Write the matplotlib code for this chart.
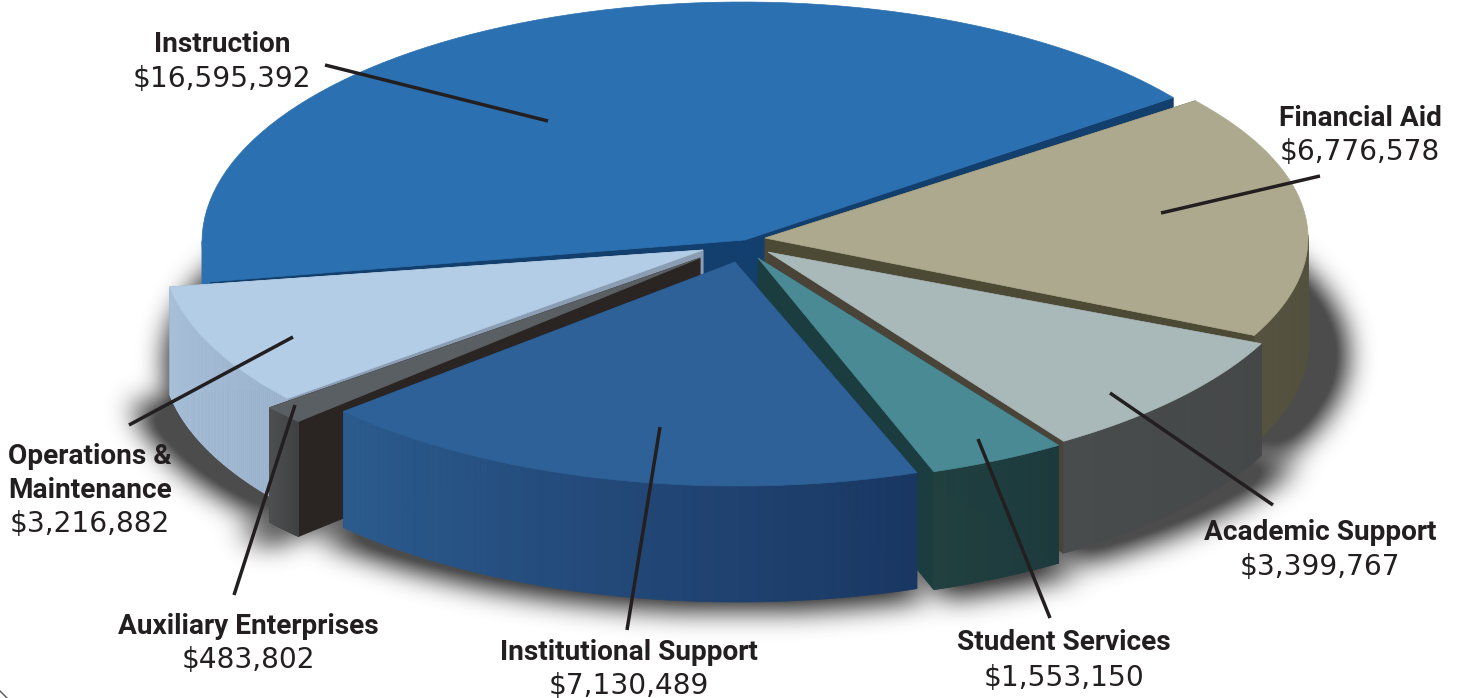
# 3D exploded pie: expenses by function
import numpy as np
import matplotlib
matplotlib.use('Agg')
import matplotlib.pyplot as plt
from matplotlib import font_manager as fm
from matplotlib.collections import PolyCollection
from matplotlib.colors import to_rgb
from matplotlib.patches import Polygon
from matplotlib.path import Path

categories = ['Instruction', 'Operations &\nMaintenance', 'Auxiliary Enterprises',
              'Institutional Support', 'Student Services', 'Academic Support', 'Financial Aid']
values = [16595392, 3216882, 483802, 7130489, 1553150, 3399767, 6776578]
value_labels = ['$16,595,392', '$3,216,882', '$483,802', '$7,130,489',
                '$1,553,150', '$3,399,767', '$6,776,578']

# layout of the picture, in pixels
W, H = 1459, 698
START_ANGLE = 37.0
centers = [(742, 242), (722, 247), (704, 256), (738, 246), (750, 245), (755, 241), (748, 238)]
radii_x = [540, 560, 560, 545, 560, 560, 560]
radii_y = [240, 240, 240, 240, 240, 240, 228]
apexes = [(745, 240), (703, 250), (700, 258), (735, 262), (758, 258), (768, 252), (765, 238)]
depths = [112, 108, 115, 116, 118, 112, 108]
top_colors = ['#2b70b0', '#b3cde6', '#5a5f63', '#2d6197', '#4a8a95', '#a9b8b9', '#aca98e']
wall_left = ['#2b70b0', '#a9c0da', '#4d4f51', '#2b5b8e', '#21403f', '#484c4c', '#55533f']
wall_right = ['#2b70b0', '#9db4cf', '#3f4143', '#1a3763', '#1d3a3d', '#454848', '#4f4e3c']
side_colors = ['#123f6e', '#8a9db2', '#2a2522', '#17375f', '#1c3d40', '#4a4438', '#4c4a35']
draw_order = [0, 6, 1, 5, 4, 2, 3]

label_pos = [(222, 44), (90, 456), (248, 626), (629, 653), (1064, 643), (1320, 532), (1360, 118)]
value_pos = [(222, 79), (90, 524), (248, 660), (629, 686), (1064, 678), (1320, 567), (1360, 152)]
leaders = [((325, 65), (548, 121)), ((293, 337), (129, 425)), ((295, 405), (234, 595)),
           ((660, 427), (627, 630)), ((978, 439), (1050, 618)), ((1110, 393), (1273, 505)),
           ((1320, 176), (1161, 213))]

INK = '#231f20'
names = {f.name for f in fm.fontManager.ttflist}
BOLD_FONT = 'Liberation Sans Narrow' if 'Liberation Sans Narrow' in names else 'Roboto'

fig = plt.figure(figsize=(W / 100, H / 100), dpi=100)
ax = fig.add_axes([0, 0, 1, 1])
ax.set_xlim(0, W)
ax.set_ylim(H, 0)
ax.axis('off')

spans = np.array(values) / sum(values) * 360
starts = START_ANGLE + np.concatenate([[0], np.cumsum(spans)[:-1]])


def arc_angles(i, n=80):
    return np.radians(np.linspace(starts[i], starts[i] + spans[i], n))


def arc_points(i):
    th = arc_angles(i)
    return np.column_stack([centers[i][0] + radii_x[i] * np.cos(th),
                            centers[i][1] - radii_y[i] * np.sin(th)])


def blur(img, size, passes=3):
    kernel = np.ones(size) / size
    for _ in range(passes):
        img = np.apply_along_axis(lambda r: np.convolve(r, kernel, mode='same'), 0, img)
        img = np.apply_along_axis(lambda r: np.convolve(r, kernel, mode='same'), 1, img)
    return img


# soft shadow from the footprint of all slices
xx, yy = np.meshgrid(np.arange(0, W, 2), np.arange(0, H, 2))
grid = np.column_stack([xx.ravel(), yy.ravel()])
mask = np.zeros(xx.shape)
for i in range(len(values)):
    foot = np.vstack([[apexes[i]], arc_points(i)])
    foot = foot + [0, depths[i] + 8]
    foot[:, 0] = 745 + (foot[:, 0] - 745) * 1.07
    inside = Path(foot).contains_points(grid).reshape(xx.shape)
    mask = np.maximum(mask, inside)
shadow = blur(mask, 13)
rgba = np.zeros(xx.shape + (4,))
rgba[..., :3] = 0.22
rgba[..., 3] = np.clip(shadow * 1.3, 0, 1) * 0.9
ax.imshow(rgba, extent=(0, W, H, 0), interpolation='bilinear', aspect='auto', zorder=1)
ax.set_xlim(0, W)
ax.set_ylim(H, 0)

# dark core where the slices meet
ax.add_patch(Polygon([(705, 240), (770, 232), (772, 262), (745, 285), (700, 270)],
                     fc='#123f6e', ec='none', zorder=2))

z = 3
for i in draw_order:
    arc = arc_points(i)
    th = arc_angles(i)
    down = np.array([0, depths[i]])
    apex = np.array(apexes[i], float)

    # the two cut faces
    for end in (arc[0], arc[-1]):
        ax.add_patch(Polygon([apex, end, end + down, apex + down],
                             fc=side_colors[i], ec=side_colors[i], lw=0.5, zorder=z))
    z += 1

    # curved outer wall, shaded along the arc; the back of the pie is not seen
    quads, cols = [], []
    c0, c1 = np.array(to_rgb(wall_left[i])), np.array(to_rgb(wall_right[i]))
    for k in range(len(arc) - 1):
        if np.sin(th[k]) > 0 and np.sin(th[k + 1]) > 0:
            continue
        quads.append([arc[k], arc[k + 1], arc[k + 1] + down, arc[k] + down])
        cols.append(c0 + (c1 - c0) * k / (len(arc) - 2))
    ax.add_collection(PolyCollection(quads, facecolors=cols, edgecolors=cols, linewidths=0.5, zorder=z))
    z += 1

    # top face
    ax.add_patch(Polygon(np.vstack([[apex], arc]), fc=top_colors[i], ec=top_colors[i], lw=0.5, zorder=z))
    z += 1

for (p0, p1) in leaders:
    ax.plot([p0[0], p1[0]], [p0[1], p1[1]], color=INK, lw=2.5, solid_capstyle='butt', zorder=z)

for name, amount, lp, vp in zip(categories, value_labels, label_pos, value_pos):
    for j, part in enumerate(name.split('\n')):
        ax.text(lp[0], lp[1] + j * 35, part, ha='center', va='center', color=INK,
                family=BOLD_FONT, weight='bold', fontsize=20.2, zorder=z + 1)
    ax.text(vp[0], vp[1], amount, ha='center', va='center', color=INK,
            family='DejaVu Sans', fontsize=20.2, zorder=z + 1)

# corner of the page frame
ax.plot([0, 7], [691, 698], color='#555555', lw=1, zorder=z)

fig.savefig('out.png', dpi=100, facecolor='white')
